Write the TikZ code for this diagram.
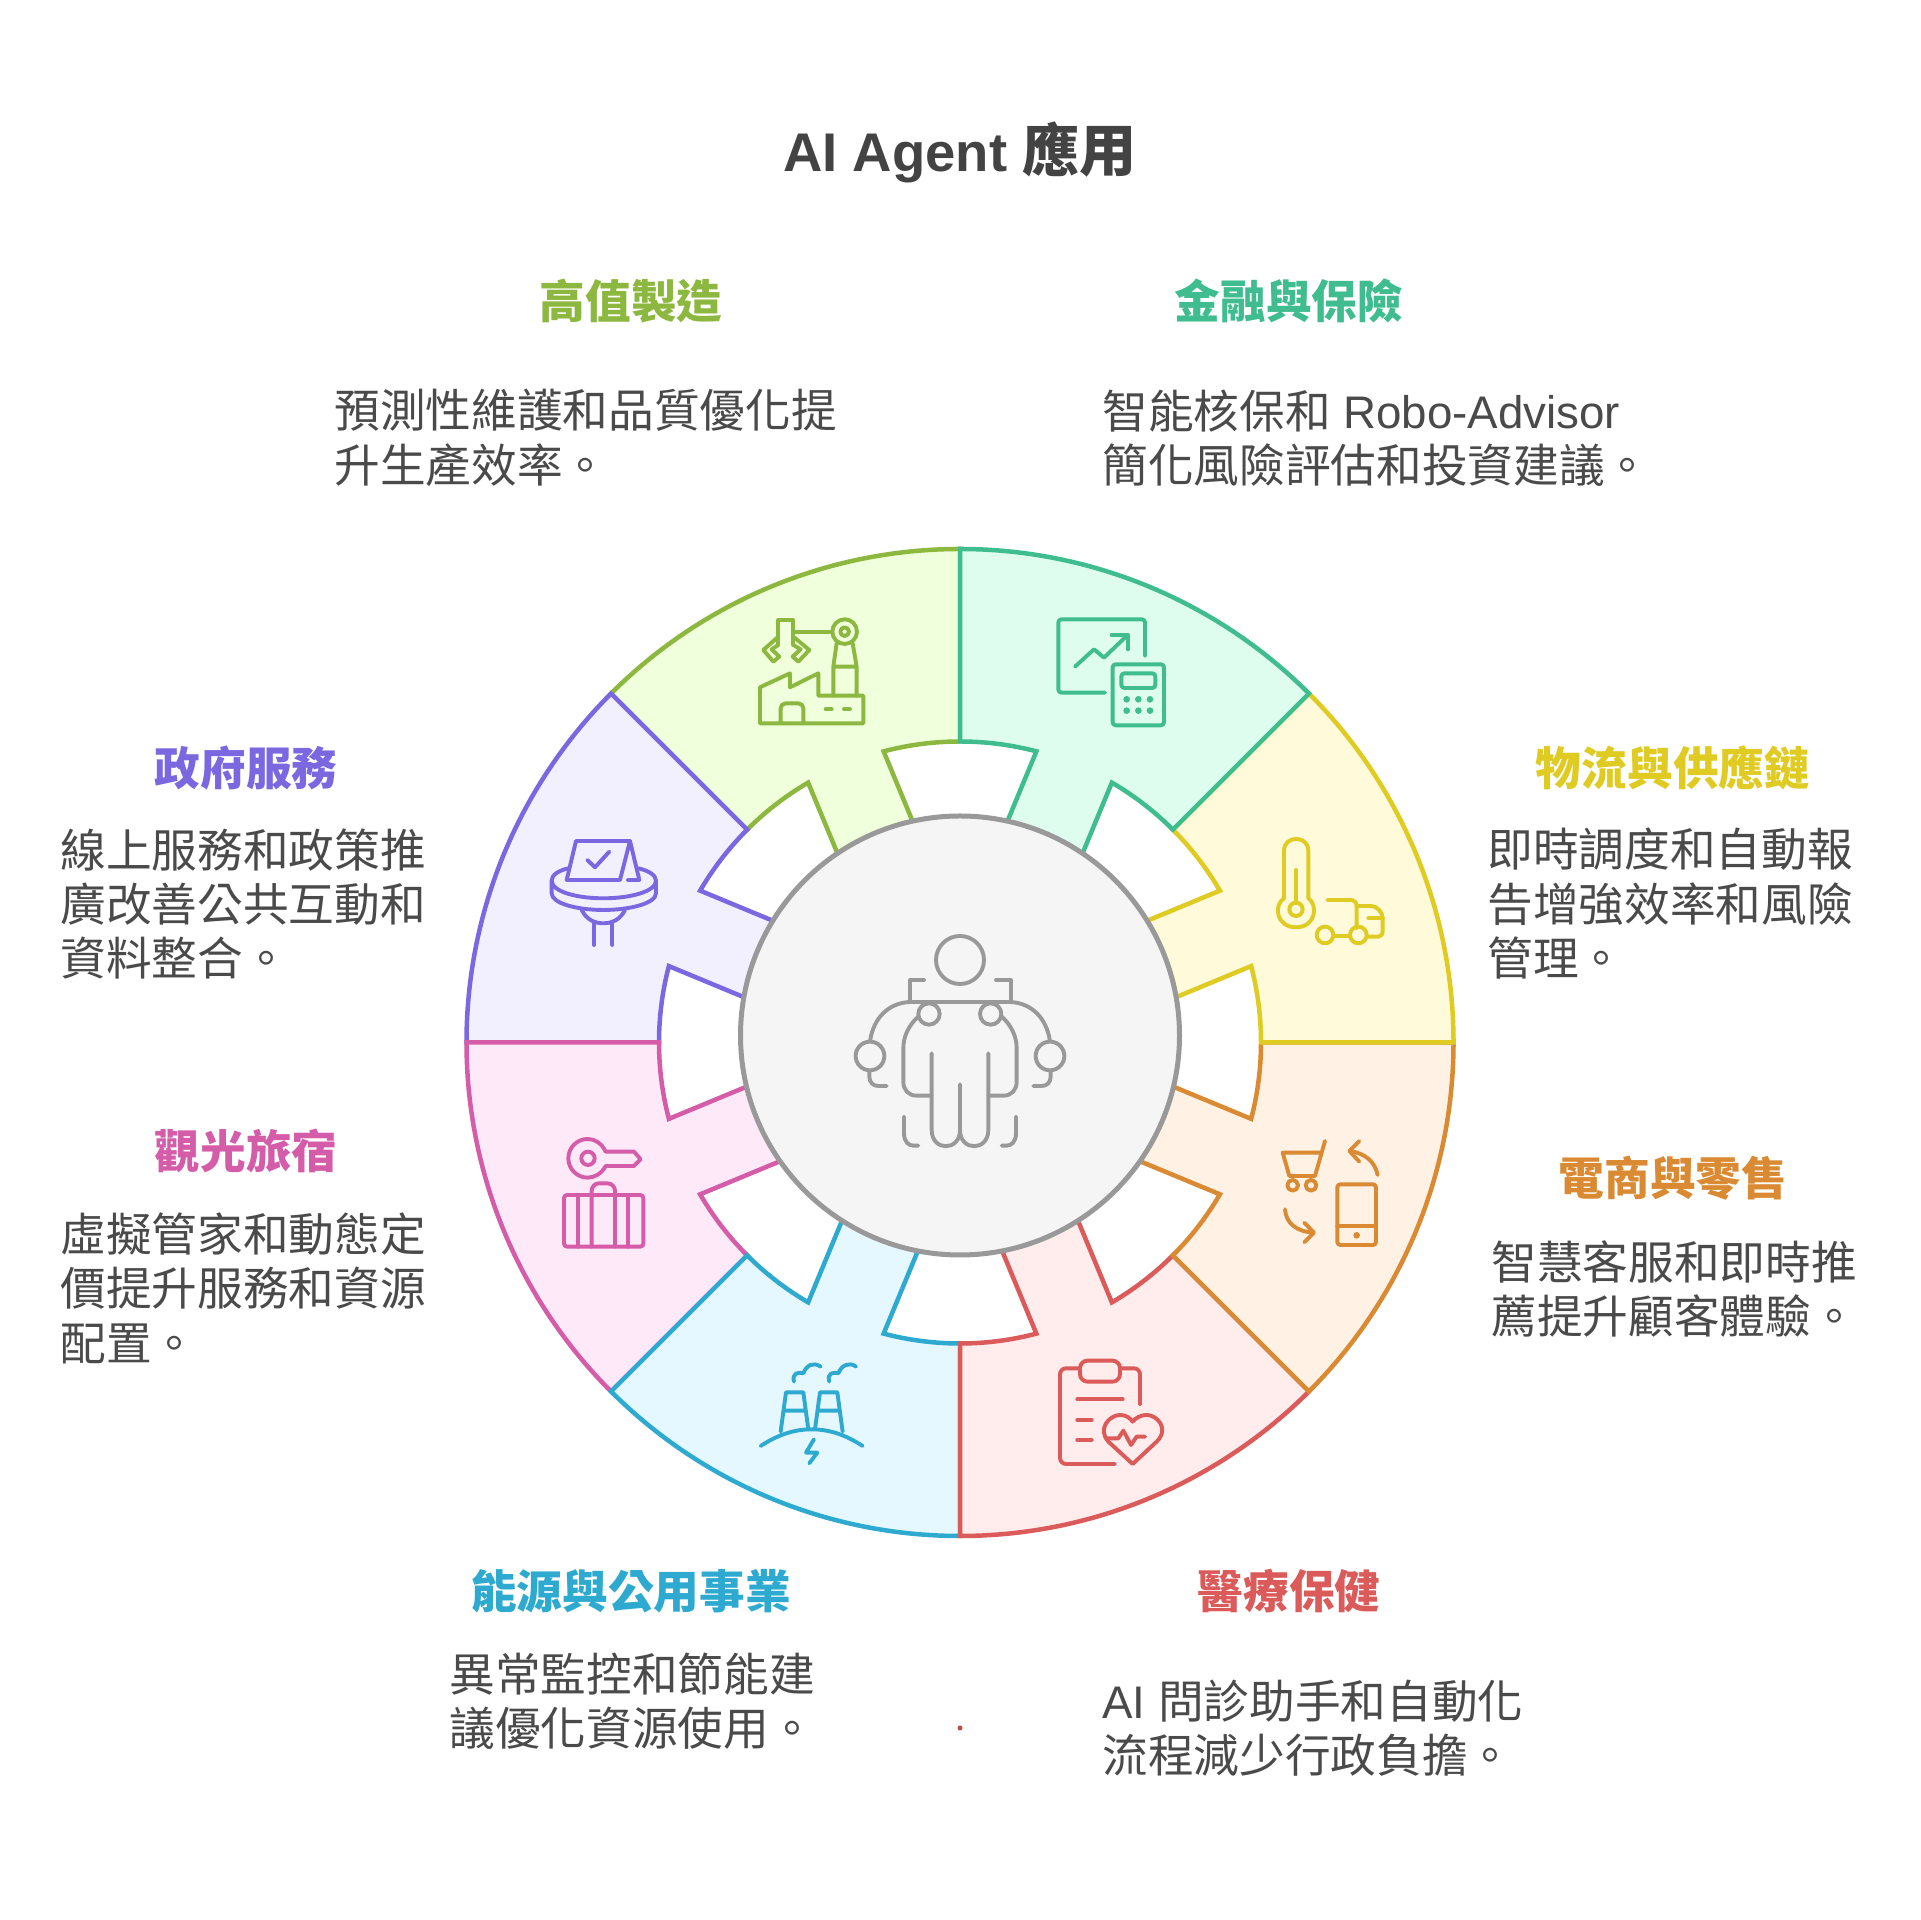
\documentclass[tikz,border=0pt]{standalone}
\usepackage{fontspec}
\usetikzlibrary{calc}
\setmainfont{Liberation Sans}
\newfontfamily\cjk{Noto Sans CJK TC}
\definecolor{cGreen}{HTML}{8DB83F}\definecolor{fGreen}{HTML}{F0FFDC}
\definecolor{cTeal}{HTML}{3FBD8E}\definecolor{fTeal}{HTML}{DFFDEE}
\definecolor{cYellow}{HTML}{DFCB22}\definecolor{fYellow}{HTML}{FFFAD9}
\definecolor{cOrange}{HTML}{D98A32}\definecolor{fOrange}{HTML}{FFF1E4}
\definecolor{cRed}{HTML}{DB5A5A}\definecolor{fRed}{HTML}{FFECEC}
\definecolor{cBlue}{HTML}{2EAAD0}\definecolor{fBlue}{HTML}{E5F8FF}
\definecolor{cPink}{HTML}{D45CA8}\definecolor{fPink}{HTML}{FDE9F8}
\definecolor{cPurple}{HTML}{7B68E0}\definecolor{fPurple}{HTML}{F2F0FF}
\definecolor{cGray}{HTML}{999999}\definecolor{fGray}{HTML}{F5F5F5}
\definecolor{cText}{HTML}{4A4A4A}
\tikzset{
  zoomed/.style 2 args={shift={(#1,#2)},x=0.0066667cm,y=-0.0066667cm},
  icon/.style={line width=0.078cm,line cap=round,line join=round,draw=#1},
  headtext/.style={font=\fontsize{26}{31}\selectfont\cjk\bfseries,inner sep=0pt,anchor=center,text=#1},
  bodytext/.style={font=\fontsize{26}{31}\selectfont,inner sep=0pt,anchor=west,align=left,text=cText},
}
\newcommand{\sector}[3]{%
  \begin{scope}[shift={(960,877.5)},rotate=#1]
    \path[draw=#2,fill=#3,line width=0.09cm,line join=miter]
      (90:493.5) arc[start angle=90,end angle=135,radius=493.5]
      -- (135:301) arc[start angle=135,end angle=120.3,radius=301]
      -- ++(292.5:115)
      -- ($(104.7:301)+(292.5:115)$)
      -- (104.7:301) arc[start angle=104.7,end angle=90,radius=301]
      -- cycle;
  \end{scope}}
\begin{document}
\begin{tikzpicture}[x=0.02cm,y=0.02cm]
\useasboundingbox[fill=white] (0,0) rectangle (1920,1920);
\sector{0}{cGreen}{fGreen}
\sector{45}{cPurple}{fPurple}
\sector{90}{cPink}{fPink}
\sector{135}{cBlue}{fBlue}
\sector{180}{cRed}{fRed}
\sector{225}{cOrange}{fOrange}
\sector{270}{cYellow}{fYellow}
\sector{315}{cTeal}{fTeal}
\path[draw=cGray,fill=fGray,line width=0.1cm] (960,884.5) circle[radius=219.5];
% factory
\begin{scope}[zoomed={440}{1390},icon=cGreen]
  \draw (960,580) -- (960,472) -- (1050,430) -- (1050,472) -- (1135,430) -- (1135,497) -- (1270,497) -- (1270,580) -- cycle;
  \draw[rounded corners=0.1cm] (1022,580) -- (1022,520) -- (1090,520) -- (1090,580);
  \draw (1157,538) -- (1175,538) (1212,538) -- (1230,538);
  \draw (1180,497) -- (1180,410) -- (1190,340) (1250,497) -- (1250,410) -- (1238,340) (1180,410) -- (1250,410);
  \draw (1214,305) circle[radius=37] (1214,305) circle[radius=13];
  \draw (1060,305) -- (1177,305);
  \draw (1015,345) -- (1015,270) -- (1060,270) -- (1060,345);
  \draw (1015,320) -- (970,360) -- (1000,395) -- (1018,380) -- (995,358) -- (1015,345);
  \draw (1060,320) -- (1108,360) -- (1075,395) -- (1058,380) -- (1082,358) -- (1060,345);
\end{scope}
% ballot
\begin{scope}[zoomed={440}{1390},icon=cPurple]
  \draw (380,1050) -- (408,933) -- (570,933) -- (540,1050) -- cycle;
  \draw (570,933) -- (598,1050) -- (563,1050);
  \draw (442,990) -- (465,1012) -- (508,965);
  \draw (385,1015) .. controls (355,1022) and (335,1035) .. (335,1052) .. controls (335,1085) and (410,1105) .. (490,1105) .. controls (570,1105) and (648,1085) .. (648,1052) .. controls (648,1035) and (625,1022) .. (595,1015);
  \draw (335,1052) -- (335,1090) .. controls (335,1120) and (410,1140) .. (490,1140) .. controls (570,1140) and (648,1120) .. (648,1090) -- (648,1052);
  \draw (425,1140) .. controls (440,1170) and (465,1180) .. (490,1180) .. controls (515,1180) and (540,1170) .. (555,1140);
  \draw (462,1180) -- (462,1245) (517,1180) -- (517,1245);
\end{scope}
% chart and calculator
\begin{scope}[zoomed={960}{1390},icon=cTeal]
  \draw[rounded corners=0.06cm] (555,378) -- (555,268) -- (295,268) -- (295,488) -- (435,488);
  \draw (345,410) -- (402,358) -- (432,383) -- (503,315);
  \draw (455,315) -- (503,315) -- (503,358);
  \draw[rounded corners=0.06cm] (458,403) rectangle (612,586);
  \draw[rounded corners=0.06cm] (484,430) rectangle (586,474);
  \foreach \px in {500,535,570}\foreach \py in {508,542}{\fill[cTeal,draw=none] (\px,\py) circle[radius=10];}
\end{scope}
% thermometer and truck
\begin{scope}[zoomed={960}{1390},icon=cYellow]
  \draw (972,1105) -- (972,962) .. controls (972,915) and (1045,915) .. (1045,962) -- (1045,1105) .. controls (1075,1125) and (1068,1192) .. (1008,1192) .. controls (948,1192) and (940,1125) .. (972,1105) -- cycle;
  \draw (1008,1138) circle[radius=20];
  \draw (1008,1020) -- (1008,1118);
  \draw[rounded corners=0.12cm] (1102,1110) -- (1190,1110) -- (1190,1195);
  \draw (1190,1128) -- (1230,1128) .. controls (1255,1128) and (1268,1150) .. (1268,1165) -- (1268,1205) .. controls (1268,1215) and (1260,1220) .. (1255,1220) -- (1222,1220);
  \draw (1225,1165) -- (1268,1165);
  \draw (1095,1215) circle[radius=25] (1195,1215) circle[radius=25];
  \draw (1120,1218) -- (1170,1218);
\end{scope}
% key and suitcase
\begin{scope}[zoomed={440}{880},icon=cPink]
  \draw (497,335) .. controls (485,310) and (465,297) .. (443,297) .. controls (411,297) and (385,323) .. (385,355) .. controls (385,387) and (411,413) .. (443,413) .. controls (465,413) and (485,400) .. (497,378) -- (582,378) -- (602,358) -- (582,335) -- cycle;
  \draw (444,355) circle[radius=20];
  \draw[rounded corners=0.06cm] (372,465) rectangle (610,620);
  \draw (415,465) -- (415,620) (565,465) -- (565,620);
  \draw[rounded corners=0.15cm] (455,620) -- (455,430) -- (525,430) -- (525,620);
\end{scope}
% power plant
\begin{scope}[zoomed={440}{880},icon=cBlue]
  \draw (962,1218) .. controls (1020,1180) and (1070,1168) .. (1115,1168) .. controls (1160,1168) and (1210,1180) .. (1268,1218);
  \draw (1022,1175) -- (1038,1057) -- (1090,1057) -- (1105,1168) (1032,1112) -- (1098,1112);
  \draw (1125,1168) -- (1140,1057) -- (1192,1057) -- (1208,1175) (1132,1112) -- (1200,1112);
  \draw (1062,1025) .. controls (1055,1000) and (1075,995) .. (1090,1000) .. controls (1100,975) and (1120,965) .. (1142,980);
  \draw (1168,1025) .. controls (1160,1000) and (1180,995) .. (1195,1000) .. controls (1205,975) and (1228,965) .. (1248,980);
  \draw (1122,1198) -- (1098,1238) -- (1132,1238) -- (1108,1270);
\end{scope}
% cart and phone
\begin{scope}[zoomed={960}{880},icon=cOrange]
  \draw (1095,303) -- (1065,408) -- (988,408) -- (968,338) -- (1083,338);
  \draw (998,436) circle[radius=16] (1053,436) circle[radius=16];
  \draw[rounded corners=0.06cm] (1132,433) rectangle (1248,615);
  \draw (1132,558) -- (1248,558);
  \fill[cOrange,draw=none] (1190,586) circle[radius=10];
  \draw (1253,405) .. controls (1245,365) and (1215,340) .. (1170,333);
  \draw (1198,303) -- (1168,333) -- (1198,365);
  \draw (975,508) .. controls (978,550) and (1010,575) .. (1060,578);
  \draw (1033,548) -- (1062,578) -- (1033,607);
\end{scope}
% clipboard and heart
\begin{scope}[zoomed={960}{880},icon=cRed]
  \draw[rounded corners=0.12cm] (465,1272) -- (300,1272) -- (300,985) -- (360,985);
  \draw[rounded corners=0.12cm] (480,985) -- (540,985) -- (540,1093);
  \draw[rounded corners=0.15cm] (360,962) rectangle (480,1025);
  \draw (352,1078) -- (488,1078) (352,1140) -- (395,1140) (352,1200) -- (395,1200);
  \draw (518,1272) -- (445,1205) .. controls (410,1165) and (450,1125) .. (480,1125) .. controls (500,1125) and (510,1135) .. (518,1145) .. controls (526,1135) and (540,1125) .. (560,1125) .. controls (590,1125) and (630,1165) .. (590,1205) -- cycle;
  \draw (440,1195) -- (475,1195) -- (490,1172) -- (513,1215) -- (530,1190) -- (555,1190);
\end{scope}
% central figure
\begin{scope}[zoomed={820}{1020},icon=cGray]
  \draw (420,180) circle[radius=72];
  \draw (312,240) -- (270,240) -- (270,305) (528,240) -- (572,240) -- (572,305);
  \draw (150,425) .. controls (160,350) and (210,308) .. (270,306) -- (570,306) .. controls (630,308) and (680,350) .. (690,425);
  \draw (300,345) .. controls (265,375) and (250,410) .. (250,445) -- (250,545) .. controls (250,570) and (265,587) .. (290,587) -- (335,587);
  \draw (540,345) .. controls (575,375) and (590,410) .. (590,445) -- (590,545) .. controls (590,570) and (575,587) .. (550,587) -- (505,587);
  \draw (335,460) -- (335,690) .. controls (335,755) and (420,755) .. (420,690) -- (420,553);
  \draw (505,460) -- (505,690) .. controls (505,755) and (420,755) .. (420,690);
  \draw (148,515) -- (148,530) .. controls (148,548) and (160,558) .. (175,558) -- (200,558);
  \draw (692,515) -- (692,530) .. controls (692,548) and (680,558) .. (665,558) -- (640,558);
  \draw (252,650) -- (252,700) .. controls (252,725) and (265,737) .. (280,737) -- (295,737);
  \draw (588,650) -- (588,700) .. controls (588,725) and (575,737) .. (560,737) -- (545,737);
  \draw[fill=fGray] (327,342) circle[radius=32] (512,342) circle[radius=32];
  \draw[fill=fGray] (150,468) circle[radius=43] (690,468) circle[radius=43];
\end{scope}
% title
\node[font=\fontsize{31}{37}\selectfont\bfseries,text=cText!90!black,inner sep=0pt] (title) at (960,1767.5) {AI Agent {\fontsize{32.5}{37}\selectfont\cjk 應用}};
% headings
\node[headtext=cGreen] (h1) at (631,1619) {高值製造};
\node[headtext=cTeal] (h2) at (1289,1619) {金融與保險};
\node[headtext=cPurple] (h3) at (246,1152) {政府服務};
\node[headtext=cYellow] (h4) at (1673,1152) {物流與供應鏈};
\node[headtext=cPink] (h5) at (246,769) {觀光旅宿};
\node[headtext=cOrange] (h6) at (1673,742) {電商與零售};
\node[headtext=cBlue] (h7) at (631,329) {能源與公用事業};
\node[headtext=cRed] (h8) at (1289,329) {醫療保健};
% bodies
\node[bodytext] (b1) at (334,1482) {\cjk 預測性維護和品質優化提\\\cjk 升生產效率。};
\node[bodytext] (b2) at (1102,1482) {{\cjk 智能核保和} Robo-Advisor\\\cjk 簡化風險評估和投資建議。};
\node[bodytext] (b3) at (60,1016) {\cjk 線上服務和政策推\\\cjk 廣改善公共互動和\\\cjk 資料整合。};
\node[bodytext] (b4) at (1487,1016) {\cjk 即時調度和自動報\\\cjk 告增強效率和風險\\\cjk 管理。};
\node[bodytext] (b5) at (60,632) {\cjk 虛擬管家和動態定\\\cjk 價提升服務和資源\\\cjk 配置。};
\node[bodytext] (b6) at (1491,631) {\cjk 智慧客服和即時推\\\cjk 薦提升顧客體驗。};
\node[bodytext] (b7) at (449,219) {\cjk 異常監控和節能建\\\cjk 議優化資源使用。};
\node[bodytext] (b8) at (1102,192) {AI {\cjk 問診助手和自動化}\\\cjk 流程減少行政負擔。};
\fill[cRed!85!black] (960,192) circle[radius=2.5];
\end{tikzpicture}
\end{document}
